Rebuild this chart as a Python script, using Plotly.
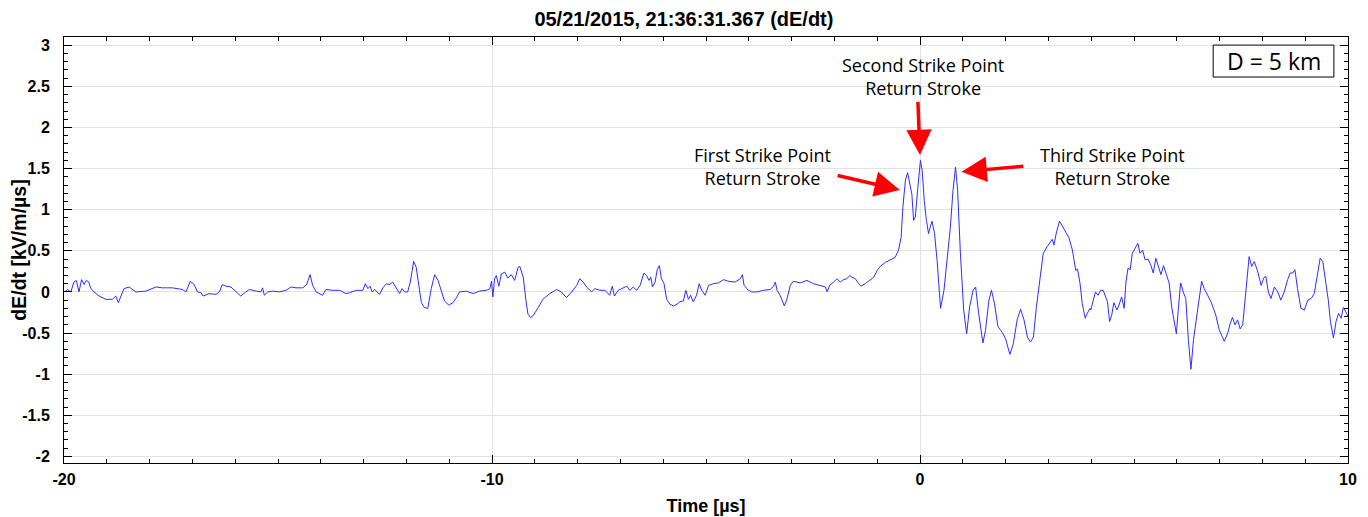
import plotly.graph_objects as go

# --- data (time in µs, dE/dt in kV/m/µs) ---
t_pre = [-19.98, -19.92, -19.84, -19.77, -19.71, -19.65, -19.59, -19.53, -19.48, -19.42,
         -19.38, -19.30, -19.18, -19.02, -18.87, -18.79, -18.73, -18.67, -18.60, -18.48,
         -18.32, -18.09, -17.85, -17.70, -17.47, -17.23, -17.15, -17.05, -16.96, -16.88,
         -16.80, -16.75, -16.61, -16.45, -16.37, -16.30, -16.22, -16.10, -15.98, -15.87,
         -15.75, -15.67, -15.51, -15.40, -15.36, -15.32, -15.24, -15.12, -14.97, -14.81,
         -14.70, -14.58, -14.42, -14.33, -14.25, -14.19, -14.11, -14.03]
v_pre = [0.00, 0.03, 0.00, 0.12, 0.14, 0.00, 0.15, 0.09, 0.14, 0.12,
         0.05, 0.00, -0.05, -0.09, -0.09, -0.05, -0.13, -0.05, 0.04, 0.06,
         0.00, 0.01, 0.06, 0.05, 0.05, 0.03, 0.00, 0.13, 0.09, 0.00,
         -0.01, -0.05, -0.02, -0.03, 0.00, 0.09, 0.07, 0.06, 0.00, -0.05,
         0.00, 0.03, 0.01, 0.00, 0.05, -0.04, 0.00, 0.01, 0.00, 0.02,
         0.06, 0.05, 0.05, 0.09, 0.21, 0.08, 0.00, -0.02]

t_mid = [-13.96, -13.88, -13.72, -13.56, -13.41, -13.33, -13.17, -13.02, -12.96, -12.90,
         -12.85, -12.80, -12.74, -12.63, -12.55, -12.47, -12.39, -12.32, -12.24, -12.16,
         -12.10, -12.04, -11.97, -11.91, -11.83, -11.77, -11.71, -11.65, -11.58, -11.50,
         -11.42, -11.34, -11.26, -11.18, -11.11, -11.01, -10.91, -10.83, -10.76, -10.60,
         -10.44, -10.29, -10.13, -10.05, -10.01, -9.98, -9.94, -9.90, -9.84, -9.78,
         -9.70, -9.63, -9.55, -9.47, -9.39, -9.35, -9.27, -9.21, -9.16, -9.10,
         -9.04, -8.92, -8.81, -8.65, -8.49, -8.38, -8.26, -8.14, -8.02]
v_mid = [-0.04, 0.03, 0.02, 0.02, -0.02, -0.01, 0.02, 0.02, 0.10, 0.04,
         0.07, 0.00, 0.03, -0.03, 0.05, 0.10, 0.09, 0.12, 0.04, -0.02,
         0.04, 0.00, 0.00, 0.12, 0.37, 0.30, 0.08, -0.13, -0.19, -0.20,
         0.04, 0.21, 0.14, 0.00, -0.11, -0.16, -0.13, -0.07, 0.00, 0.01,
         -0.02, 0.01, 0.02, 0.04, 0.13, -0.06, 0.16, 0.20, 0.07, 0.22,
         0.24, 0.17, 0.21, 0.14, 0.30, 0.31, 0.18, -0.09, -0.27, -0.31,
         -0.29, -0.19, -0.09, -0.02, 0.03, 0.00, -0.07, 0.00, 0.08]

t_late = [-7.95, -7.87, -7.79, -7.67, -7.60, -7.48, -7.36, -7.25, -7.19, -7.14,
          -7.05, -6.97, -6.85, -6.78, -6.70, -6.62, -6.54, -6.45, -6.39, -6.33,
          -6.29, -6.25, -6.19, -6.14, -6.09, -6.04, -5.98, -5.92, -5.84, -5.76,
          -5.68, -5.61, -5.53, -5.47, -5.41, -5.36, -5.30, -5.22, -5.16, -5.10,
          -5.02, -4.94, -4.83, -4.71, -4.59, -4.48, -4.32, -4.20, -4.15, -4.11,
          -4.06, -4.01, -3.93, -3.81, -3.66, -3.50, -3.42, -3.38, -3.34, -3.27,
          -3.17, -3.11, -3.03, -2.96, -2.80, -2.64, -2.49, -2.33, -2.21, -2.17,
          -2.11, -2.02, -1.94]
v_late = [0.16, 0.12, 0.06, 0.00, 0.04, 0.02, 0.02, -0.04, 0.07, -0.05,
          0.02, 0.04, 0.07, 0.02, 0.06, 0.02, 0.08, 0.23, 0.20, 0.14,
          0.18, 0.06, 0.12, 0.27, 0.32, 0.16, 0.10, -0.09, -0.15, -0.17,
          -0.15, -0.12, -0.11, 0.02, -0.09, -0.04, -0.12, -0.04, 0.10, 0.02,
          -0.04, 0.08, 0.10, 0.11, 0.15, 0.13, 0.12, 0.16, 0.21, 0.08,
          0.05, 0.02, 0.00, 0.00, 0.02, 0.03, 0.07, 0.12, 0.02, -0.04,
          -0.17, -0.09, 0.08, 0.13, 0.11, 0.14, 0.10, 0.08, 0.06, 0.00,
          0.08, 0.12, 0.16]

t_stroke = [-1.86, -1.79, -1.71, -1.64, -1.59, -1.51, -1.43, -1.38, -1.28, -1.20,
            -1.08, -1.00, -0.93, -0.81, -0.69, -0.58, -0.50, -0.44, -0.40, -0.34,
            -0.29, -0.23, -0.19, -0.15, -0.11, -0.05, 0.01, 0.05, 0.10, 0.15,
            0.20, 0.24, 0.28, 0.34, 0.40, 0.48, 0.56, 0.63, 0.71, 0.77,
            0.83, 0.88, 0.94, 1.02, 1.09, 1.16, 1.24, 1.30, 1.37, 1.47,
            1.53, 1.61, 1.67, 1.74, 1.82, 1.92, 2.00, 2.10, 2.18, 2.27,
            2.35, 2.43, 2.51, 2.58, 2.65, 2.72, 2.80, 2.88, 2.97, 3.05,
            3.09, 3.13, 3.19, 3.26, 3.32, 3.40, 3.48, 3.56, 3.64, 3.68,
            3.74, 3.79, 3.86, 3.91, 3.97]
v_stroke = [0.12, 0.15, 0.16, 0.20, 0.18, 0.16, 0.10, 0.07, 0.10, 0.13,
            0.18, 0.26, 0.31, 0.36, 0.39, 0.42, 0.51, 0.67, 1.03, 1.36,
            1.45, 1.27, 1.19, 0.87, 0.91, 1.27, 1.60, 1.48, 1.11, 0.87,
            0.71, 0.79, 0.86, 0.71, 0.38, -0.20, 0.02, 0.38, 0.79, 1.23,
            1.52, 1.23, 0.51, -0.22, -0.51, -0.18, 0.02, 0.06, -0.26, -0.62,
            -0.47, -0.10, 0.02, -0.14, -0.42, -0.49, -0.57, -0.76, -0.63, -0.34,
            -0.21, -0.34, -0.55, -0.61, -0.55, -0.18, 0.18, 0.47, 0.55, 0.61,
            0.64, 0.57, 0.73, 0.86, 0.81, 0.73, 0.66, 0.51, 0.26, 0.28,
            0.10, -0.14, -0.32, -0.26, -0.20]

t_tail = [3.99, 4.05, 4.10, 4.16, 4.22, 4.28, 4.34, 4.38, 4.43, 4.48,
          4.53, 4.60, 4.65, 4.71, 4.77, 4.81, 4.86, 4.91, 4.96, 5.02,
          5.09, 5.14, 5.20, 5.26, 5.33, 5.39, 5.45, 5.51, 5.57, 5.63,
          5.69, 5.74, 5.82, 5.88, 5.94, 5.99, 6.04, 6.09, 6.15, 6.21,
          6.27, 6.33, 6.39, 6.47, 6.52, 6.58, 6.64, 6.72, 6.80, 6.91,
          6.99, 7.11, 7.19, 7.25, 7.30, 7.36, 7.42, 7.48, 7.54, 7.62,
          7.69, 7.75, 7.81, 7.89, 7.97, 8.03, 8.08, 8.14, 8.20, 8.28,
          8.36, 8.43, 8.51, 8.59, 8.65, 8.71, 8.76, 8.82, 8.90, 8.98,
          9.06, 9.14, 9.21, 9.28, 9.35, 9.41, 9.49, 9.54, 9.59, 9.66,
          9.72, 9.78, 9.84, 9.89, 9.95, 10.0]
v_tail = [-0.22, -0.10, 0.00, -0.04, 0.02, 0.02, -0.08, -0.12, -0.36, -0.28,
          -0.13, -0.22, -0.16, -0.06, -0.20, 0.11, 0.29, 0.27, 0.47, 0.53,
          0.59, 0.47, 0.51, 0.39, 0.40, 0.33, 0.23, 0.41, 0.31, 0.21,
          0.32, 0.23, 0.11, -0.18, -0.36, -0.51, -0.18, 0.11, 0.00, -0.08,
          -0.58, -0.94, -0.58, -0.28, -0.04, 0.13, 0.04, -0.04, -0.12, -0.28,
          -0.46, -0.60, -0.50, -0.38, -0.31, -0.40, -0.34, -0.45, -0.40, 0.04,
          0.43, 0.31, 0.37, 0.25, 0.08, 0.17, 0.19, 0.00, -0.08, 0.06,
          0.00, -0.10, 0.00, 0.15, 0.23, 0.23, 0.27, 0.04, -0.20, -0.22,
          -0.10, -0.08, -0.02, 0.19, 0.41, 0.37, 0.11, -0.10, -0.36, -0.56,
          -0.36, -0.26, -0.32, -0.19, -0.24, -0.30]

x_ticks = [-20, -10, 0, 10]
y_ticks = [-2, -1.5, -1, -0.5, 0, 0.5, 1, 1.5, 2, 2.5, 3]

title_text = "05/21/2015, 21:36:31.367 (dE/dt)"
distance_label = "D = 5 km"

t_us = t_pre + t_mid + t_late + t_stroke + t_tail
dedt = v_pre + v_mid + v_late + v_stroke + v_tail


def tick_label(v):
    # plain hyphen minus like the original, not the unicode minus
    return f"{v:g}"


BOLD = "Liberation Sans, Arial"
AX_FONT = dict(family=BOLD, size=16, color="black", weight="bold")
NOTE_FONT = dict(family="Open Sans", size=18, color="black")

fig = go.Figure()

fig.add_trace(go.Scatter(
    x=t_us,
    y=dedt,
    mode="lines",
    line=dict(color="#2e2eff", width=1),
    showlegend=False,
    hoverinfo="skip",
))

# strike point labels
labels = [
    ("Second Strike Point<br>Return Stroke", 0.07, 2.62),
    ("First Strike Point<br>Return Stroke", -3.67, 1.525),
    ("Third Strike Point<br>Return Stroke", 4.49, 1.525),
]
for txt, lx, ly in labels:
    fig.add_annotation(x=lx, y=ly, text=txt, showarrow=False, font=NOTE_FONT,
                       align="center", xanchor="center", yanchor="middle")

# red arrows (tail -> head)
arrows = [
    (-0.05, 2.33, 0.0, 1.665),
    (-1.96, 1.42, -0.47, 1.24),
    (2.45, 1.53, 0.97, 1.462),
]
for tx, ty, hx, hy in arrows:
    fig.add_annotation(x=hx, y=hy, ax=tx, ay=ty, axref="x", ayref="y",
                       text="", showarrow=True, arrowhead=2, arrowsize=1.45,
                       arrowwidth=3.5, arrowcolor="#ff0000", standoff=0)

# distance box, top right
fig.add_shape(type="rect", xref="paper", yref="paper",
              x0=0.895, x1=0.989, y0=0.906, y1=0.981,
              line=dict(color="black", width=1), fillcolor="white", layer="above")
fig.add_annotation(
    x=0.942, y=0.944, xref="paper", yref="paper", xanchor="center", yanchor="middle",
    text=distance_label, showarrow=False,
    font=dict(family="Open Sans", size=23, color="black"),
)

# the page body adds an 8 px offset, so the figure is sized to fit inside it
fig.update_layout(
    width=1360,
    height=509,
    paper_bgcolor="white",
    plot_bgcolor="white",
    margin=dict(l=56, r=20, t=29, b=54),
    title=dict(
        text=title_text,
        font=dict(family=BOLD, size=20, color="black", weight="bold"),
        x=0.497, xref="container", xanchor="center",
        y=0.978, yref="container", yanchor="middle",
    ),
    xaxis=dict(
        range=[-20, 10],
        tickvals=x_ticks,
        ticktext=[tick_label(v) for v in x_ticks],
        ticks="inside", ticklen=8, tickcolor="black",
        showline=True, linecolor="black", linewidth=1, mirror="ticks",
        showgrid=True, gridcolor="#e2e2e2", zeroline=False,
        tickfont=AX_FONT, ticklabelstandoff=2, automargin=False,
        minor=dict(dtick=1, ticks="inside", ticklen=4, tickcolor="black", showgrid=False),
        title=dict(text="Time [µs]", font=dict(family=BOLD, size=18,
                                                color="black", weight="bold"), standoff=12),
    ),
    yaxis=dict(
        range=[-2.08, 3.1],
        tickvals=y_ticks,
        ticktext=[tick_label(v) for v in y_ticks],
        ticks="inside", ticklen=8, tickcolor="black",
        showline=True, linecolor="black", linewidth=1, mirror="ticks",
        showgrid=True, gridcolor="#e2e2e2", zeroline=False,
        tickfont=AX_FONT, ticklabelstandoff=10, automargin=False,
        minor=dict(dtick=0.1, tick0=0, ticks="inside", ticklen=4, tickcolor="black",
                   showgrid=False),
        title=dict(text="dE/dt [kV/m/µs]", font=dict(family=BOLD, size=19.5,
                                                      color="black", weight="bold"), standoff=1),
    ),
)

fig.write_html("out.html")
